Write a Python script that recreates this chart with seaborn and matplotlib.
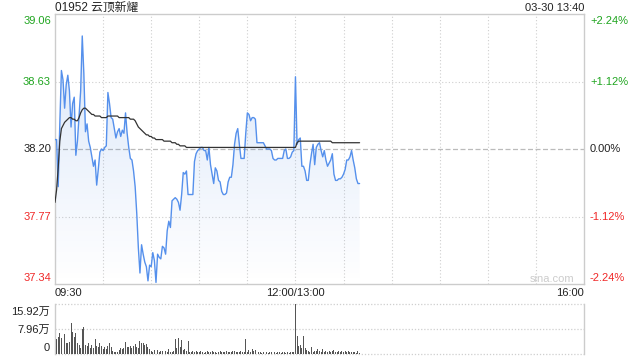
import numpy as np
import pandas as pd
import matplotlib
matplotlib.use("Agg")
import matplotlib.pyplot as plt
import seaborn as sns
from matplotlib.colors import LinearSegmentedColormap

# ---------------- data ----------------
title_text = "01952 云顶新耀"
stamp_text = "03-30 13:40"
prev_close = 38.20
price_ticks = [39.06, 38.63, 38.20, 37.77, 37.34]
pct_labels = ["+2.24%", "+1.12%", "0.00%", "-1.12%", "-2.24%"]
x_tick_labels = ["09:30", "12:00/13:00", "16:00"]
vol_tick_labels = ["15.92万", "7.96万", "0"]
vol_ticks = [15.92, 7.96, 0]
total_minutes = 330

price = [
    38.26, 38.26, 37.96, 38.36, 38.70, 38.64, 38.46, 38.61, 38.67, 38.57,
    38.34, 38.49, 38.53, 38.16, 38.25, 38.41, 38.57, 38.92, 38.68, 38.31,
    38.36, 38.25, 38.21, 38.15, 38.09, 38.13, 37.97, 38.07, 38.18, 38.20,
    38.19, 38.21, 38.22, 38.56, 38.49, 38.40, 38.39, 38.33, 38.27, 38.31,
    38.33, 38.28, 38.32, 38.30, 38.43, 38.30, 38.21, 38.14, 38.13, 38.06,
    37.96, 37.79, 37.57, 37.41, 37.59, 37.53, 37.48, 37.45, 37.36, 37.46,
    37.45, 37.54, 37.49, 37.35, 37.53, 37.51, 37.50, 37.58, 37.57, 37.53,
    37.68, 37.74, 37.70, 37.87, 37.88, 37.89, 37.88, 37.86, 37.81, 37.91,
    38.05, 38.04, 38.06, 37.91, 37.91, 37.91, 37.91, 38.12, 38.17, 38.19,
    38.20, 38.21, 38.21, 38.19, 38.19, 38.13, 38.21, 38.10, 38.04, 37.98,
    38.08, 38.06, 38.00, 37.99, 37.93, 37.91, 37.91, 37.92, 37.99, 38.02,
    38.02, 38.10, 38.23, 38.30, 38.33, 38.23, 38.14, 38.14, 38.14, 38.30,
    38.43, 38.42, 38.38, 38.40, 38.40, 38.39, 38.24, 38.24, 38.24, 38.24,
    38.24, 38.22, 38.20, 38.20, 38.20, 38.19, 38.14, 38.13, 38.13, 38.14,
    38.14, 38.14, 38.14, 38.19, 38.20, 38.14, 38.14, 38.15, 38.18, 38.19,
    38.66, 38.23, 38.26, 38.27, 38.09, 38.09, 38.06, 38.00, 38.00, 38.10,
    38.17, 38.23, 38.10, 38.21, 38.23, 38.24, 38.19, 38.15, 38.19, 38.13,
    38.09, 38.11, 38.13, 38.17, 38.04, 38.00, 38.00, 38.01, 38.01, 38.02,
    38.04, 38.07, 38.13, 38.13, 38.15, 38.19, 38.13, 38.08, 38.01, 37.98,
    37.98,
]

avg_price = [
    37.86, 37.94, 38.08, 38.25, 38.33, 38.35, 38.37, 38.38, 38.39, 38.40,
    38.40, 38.39, 38.39, 38.38, 38.38, 38.40, 38.43, 38.45, 38.46, 38.46,
    38.45, 38.44, 38.43, 38.42, 38.42, 38.41, 38.41, 38.41, 38.41, 38.40,
    38.40, 38.40, 38.40, 38.41, 38.41, 38.41, 38.41, 38.41, 38.41, 38.41,
    38.40, 38.40, 38.40, 38.40, 38.40, 38.40, 38.40, 38.39, 38.39, 38.39,
    38.38, 38.36, 38.34, 38.33, 38.32, 38.31, 38.30, 38.29, 38.29, 38.28,
    38.28, 38.27, 38.27, 38.26, 38.26, 38.26, 38.26, 38.26, 38.25, 38.25,
    38.25, 38.25, 38.25, 38.24, 38.24, 38.24, 38.23, 38.23, 38.22, 38.22,
    38.22, 38.22, 38.21, 38.21, 38.21, 38.21, 38.21, 38.21, 38.21, 38.21,
    38.21, 38.21, 38.21, 38.21, 38.21, 38.21, 38.21, 38.21, 38.21, 38.21,
    38.21, 38.21, 38.21, 38.21, 38.21, 38.21, 38.21, 38.21, 38.21, 38.21,
    38.21, 38.21, 38.21, 38.21, 38.21, 38.21, 38.21, 38.21, 38.21, 38.21,
    38.21, 38.21, 38.21, 38.21, 38.21, 38.21, 38.21, 38.21, 38.21, 38.21,
    38.21, 38.21, 38.21, 38.21, 38.21, 38.21, 38.21, 38.21, 38.21, 38.21,
    38.21, 38.21, 38.21, 38.21, 38.21, 38.21, 38.21, 38.21, 38.21, 38.21,
    38.21, 38.24, 38.25, 38.25, 38.25, 38.25, 38.25, 38.25, 38.25, 38.25,
    38.25, 38.25, 38.25, 38.25, 38.25, 38.25, 38.25, 38.25, 38.25, 38.25,
    38.25, 38.25, 38.25, 38.24, 38.24, 38.24, 38.24, 38.24, 38.24, 38.24,
    38.24, 38.24, 38.24, 38.24, 38.24, 38.24, 38.24, 38.24, 38.24, 38.24,
    38.24,
]

volume_wan = [
    10.1, 4.7, 5.5, 6.6, 5.0, 9.6, 6.4, 3.4, 3.4, 3.9,
    9.8, 7.1, 5.5, 6.6, 3.6, 2.9, 2.0, 8.0, 8.5, 2.9,
    2.5, 3.4, 1.8, 3.0, 2.0, 4.7, 2.5, 2.1, 3.4, 2.5,
    1.5, 2.3, 1.5, 2.5, 3.4, 2.1, 1.1, 0.7, 0.5, 0.7,
    1.3, 1.8, 1.5, 2.0, 3.7, 2.3, 2.1, 2.5, 1.8, 2.5,
    3.2, 2.3, 1.8, 4.1, 3.4, 3.6, 2.9, 3.1, 2.3, 1.5,
    1.1, 0.7, 1.3, 1.8, 1.2, 0.6, 0.8, 1.0, 0.5, 0.9,
    0.6, 1.6, 0.5, 0.7, 0.9, 4.8, 1.8, 5.2, 2.3, 4.5,
    1.3, 1.5, 1.0, 4.1, 0.7, 0.5, 0.8, 0.6, 0.9, 0.7,
    0.5, 0.8, 0.6, 0.4, 0.7, 0.9, 0.5, 0.6, 0.8, 0.5,
    0.7, 0.4, 0.6, 0.8, 0.5, 0.7, 0.6, 0.9, 0.5, 0.7,
    0.6, 0.8, 1.1, 0.6, 0.7, 0.5, 0.8, 0.6, 0.7, 4.8,
    0.7, 1.3, 0.5, 1.5, 0.8, 1.3, 0.6, 0.5, 0.7, 0.4,
    0.6, 0.5, 0.7, 0.4, 0.6, 0.5, 0.3, 0.6, 0.4, 0.5,
    0.7, 0.4, 0.5, 0.6, 0.4, 0.5, 0.3, 0.6, 0.5, 0.7,
    15.92, 5.8, 2.5, 2.9, 1.8, 5.8, 1.8, 1.3, 0.8, 0.6,
    2.3, 0.7, 1.1, 0.9, 1.5, 0.8, 0.7, 1.5, 0.6, 0.9,
    0.7, 1.1, 0.6, 0.9, 1.3, 0.7, 0.5, 1.1, 0.7, 0.9,
    0.5, 0.8, 0.7, 0.9, 0.6, 0.7, 0.5, 0.6, 0.4, 1.0,
    0.3,
]

minutes = np.arange(len(price))
df = pd.DataFrame({"minute": minutes, "price": price,
                   "avg": avg_price, "vol": volume_wan})

# ---------------- style ----------------
sns.set_style("white")
plt.rcParams["font.family"] = ["Liberation Sans", "Noto Sans CJK SC", "DejaVu Sans"]

W, H = 640, 360
fig = plt.figure(figsize=(6.4, 3.6), dpi=100)

def fx(x):
    return x / W

def fy(y):
    return 1 - y / H

L, R, T, B = 55, 584, 14, 284
ax = fig.add_axes([fx(L), fy(B), fx(R) - fx(L), (B - T) / H])
VT, VB = 304, 354
axv = fig.add_axes([fx(L), fy(VB), fx(R) - fx(L), (VB - VT) / H])

green = "#1fa51f"
red = "#f02828"
grid_c = "#cfcfcf"
spine_c = "#cccccc"

ymin, ymax = price_ticks[-1], price_ticks[0]

# gradient fill under the price line
poly = ax.fill_between(df["minute"], df["price"], ymin, color="none", lw=0)
cmap = LinearSegmentedColormap.from_list(
    "g", [(0.23, 0.49, 0.88, 0.0), (0.23, 0.49, 0.88, 0.20)])
grad = np.linspace(0, 1, 256).reshape(-1, 1)
img = ax.imshow(grad, extent=[0, minutes[-1], ymin, ymax], origin="lower",
                aspect="auto", cmap=cmap, zorder=1)
img.set_clip_path(poly.get_paths()[0], transform=ax.transData)

sns.lineplot(data=df, x="minute", y="price", ax=ax, color="#5590ec",
             lw=1.0, zorder=3)
sns.lineplot(data=df, x="minute", y="avg", ax=ax, color="#333333",
             lw=0.9, zorder=4)

ax.set_xlim(0, total_minutes)
ax.set_ylim(ymin, ymax)

# grid
for xv in range(30, total_minutes, 30):
    ax.axvline(xv, color=grid_c, lw=0.8, ls=(0, (1, 2)), zorder=0)
for yv in [price_ticks[1], price_ticks[3]]:
    ax.axhline(yv, color=grid_c, lw=0.8, ls=(0, (1, 2)), zorder=0)
ax.axhline(prev_close, color="#bbbbbb", lw=0.9, ls=(0, (4, 2)), zorder=0)

ax.set_xticks([])
ax.set_yticks([])
ax.set_xlabel("")
ax.set_ylabel("")
for s in ax.spines.values():
    s.set_color(spine_c)
    s.set_linewidth(1)

# left / right labels
lab_colors = [green, green, "#222222", red, red]
lab_y = [21, 82, 149, 217, 278]
for v, p, c, yy in zip(price_ticks, pct_labels, lab_colors, lab_y):
    fig.text(fx(51), fy(yy), f"{v:.2f}", color=c, fontsize=8,
             ha="right", va="center")
    fig.text(fx(590), fy(yy), p, color=c, fontsize=8,
             ha="left", va="center")

# x labels
fig.text(fx(55), fy(293), x_tick_labels[0], fontsize=8, color="#222222",
         ha="left", va="center")
fig.text(fx(295), fy(293), x_tick_labels[1], fontsize=8, color="#222222",
         ha="center", va="center")
fig.text(fx(584), fy(293), x_tick_labels[2], fontsize=8, color="#222222",
         ha="right", va="center")

# title and timestamp
fig.text(fx(55), fy(8), title_text, fontsize=8.5, color="#222222",
         ha="left", va="center")
fig.text(fx(584), fy(8), stamp_text, fontsize=8, color="#222222",
         ha="right", va="center")

# watermark
fig.text(fx(552), fy(279), "sina.com", fontsize=8, color="#cccccc",
         ha="center", va="center")

# ---------------- volume ----------------
sns.barplot(data=df, x="minute", y="vol", ax=axv, native_scale=True,
            color="#555555", width=0.6, errorbar=None, saturation=1,
            edgecolor="none", zorder=3)
axv.set_xlim(0, total_minutes)
axv.set_ylim(0, vol_ticks[0])
axv.set_xticks([])
axv.set_yticks([])
axv.set_xlabel("")
axv.set_ylabel("")
for name in ["left", "right"]:
    axv.spines[name].set_color(spine_c)
    axv.spines[name].set_linewidth(1)
axv.spines["top"].set_visible(False)
axv.spines["bottom"].set_visible(False)
for yv in vol_ticks:
    axv.axhline(yv, color=grid_c, lw=0.9, ls=(0, (1, 1.5)), zorder=0,
                clip_on=False)

vol_lab_y = [312, 330, 348]
for t, yy in zip(vol_tick_labels, vol_lab_y):
    fig.text(fx(50), fy(yy), t, fontsize=8, color="#222222",
             ha="right", va="center")

fig.savefig("out.png", dpi=100)
